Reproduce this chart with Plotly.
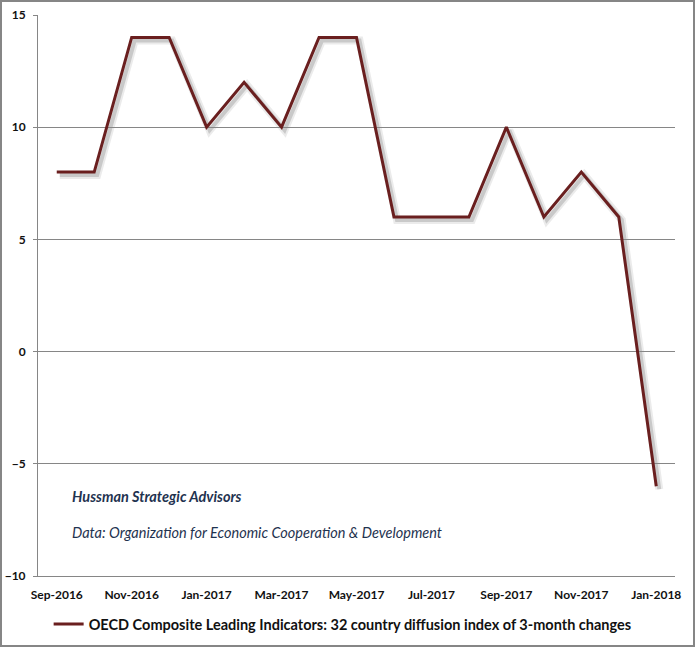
import plotly.graph_objects as go

months = ["Sep-2016", "Oct-2016", "Nov-2016", "Dec-2016", "Jan-2017", "Feb-2017",
          "Mar-2017", "Apr-2017", "May-2017", "Jun-2017", "Jul-2017", "Aug-2017",
          "Sep-2017", "Oct-2017", "Nov-2017", "Dec-2017", "Jan-2018"]
values = [8, 8, 14, 14, 10, 12, 10, 14, 14, 6, 6, 6, 10, 6, 8, 6, -6]
tick_labels = months[::2]
y_ticks = [-10, -5, 0, 5, 10, 15]
series_name = "OECD Composite Leading Indicators: 32 country diffusion index of 3-month changes"

W, H = 695, 647
L, R, T, B = 38, 17, 15, 68
pw, ph = W - L - R, H - T - B
off = 3
idx = list(range(len(months)))

fig = go.Figure()
# soft shadow (two strokes for a blurred look)
fig.add_trace(go.Scatter(x=idx, y=values, mode="lines", xaxis="x", yaxis="y",
                         line=dict(color="rgba(0,0,0,0.08)", width=8),
                         showlegend=False, hoverinfo="skip"))
fig.add_trace(go.Scatter(x=idx, y=values, mode="lines", xaxis="x", yaxis="y",
                         line=dict(color="rgba(0,0,0,0.14)", width=4),
                         showlegend=False, hoverinfo="skip"))
# main line
fig.add_trace(go.Scatter(x=idx, y=values, mode="lines", xaxis="x2", yaxis="y2",
                         name=series_name,
                         line=dict(color="#6A1F1F", width=3)))

tickfont = dict(family="Lato", size=12, color="#111111", weight=700)
fig.update_layout(
    width=W, height=H,
    margin=dict(l=L, r=R, t=T, b=B, autoexpand=False),
    paper_bgcolor="white", plot_bgcolor="rgba(0,0,0,0)",
    xaxis=dict(domain=[off / pw, 1], range=[-0.5, len(months) - 0.5], visible=False, anchor="y"),
    yaxis=dict(domain=[0, 1 - off / ph], range=[-10, 15], visible=False, anchor="x"),
    xaxis2=dict(domain=[0, 1 - off / pw], range=[-0.5, len(months) - 0.5], anchor="y2",
                tickmode="array", tickvals=idx[::2], ticktext=tick_labels,
                showgrid=False, showline=True, linecolor="#868686", linewidth=1,
                ticks="", tickfont=tickfont, zeroline=False, ticklabelstandoff=8),
    yaxis2=dict(domain=[off / ph, 1], range=[-10, 15], anchor="x2",
                tickmode="array", tickvals=y_ticks,
                showgrid=True, gridcolor="#868686", gridwidth=1,
                showline=True, linecolor="#868686", linewidth=1,
                ticks="outside", ticklen=4, tickcolor="#868686",
                tickfont=tickfont, zeroline=False, ticklabelstandoff=5),
    showlegend=True,
    legend=dict(orientation="h", x=0.476, xanchor="center",
                yref="container", y=(H - 624) / H, yanchor="middle",
                font=dict(family="Lato", size=14.5, color="#111111", weight=700),
                itemwidth=30, bgcolor="rgba(0,0,0,0)"),
    annotations=[
        dict(text="Hussman Strategic Advisors", xref="paper", yref="paper",
             x=(70 - L) / pw, y=(H - B - 496) / ph, xanchor="left", yanchor="middle",
             showarrow=False, font=dict(family="Lato", size=14.5, color="#1F3350",
                                        style="italic", weight=700)),
        dict(text="Data: Organization for Economic Cooperation & Development", xref="paper", yref="paper",
             x=(70 - L) / pw, y=(H - B - 532) / ph, xanchor="left", yanchor="middle",
             showarrow=False, font=dict(family="Lato", size=14.5, color="#1F3350", style="italic")),
    ],
    shapes=[dict(type="rect", xref="paper", yref="paper",
                 x0=(1 - L) / pw, x1=(W - 1 - L) / pw,
                 y0=(H - B - (H - 1)) / ph, y1=(H - B - 1) / ph,
                 line=dict(color="#868686", width=2), fillcolor="rgba(0,0,0,0)")],
)

fig.write_html("out.html")
